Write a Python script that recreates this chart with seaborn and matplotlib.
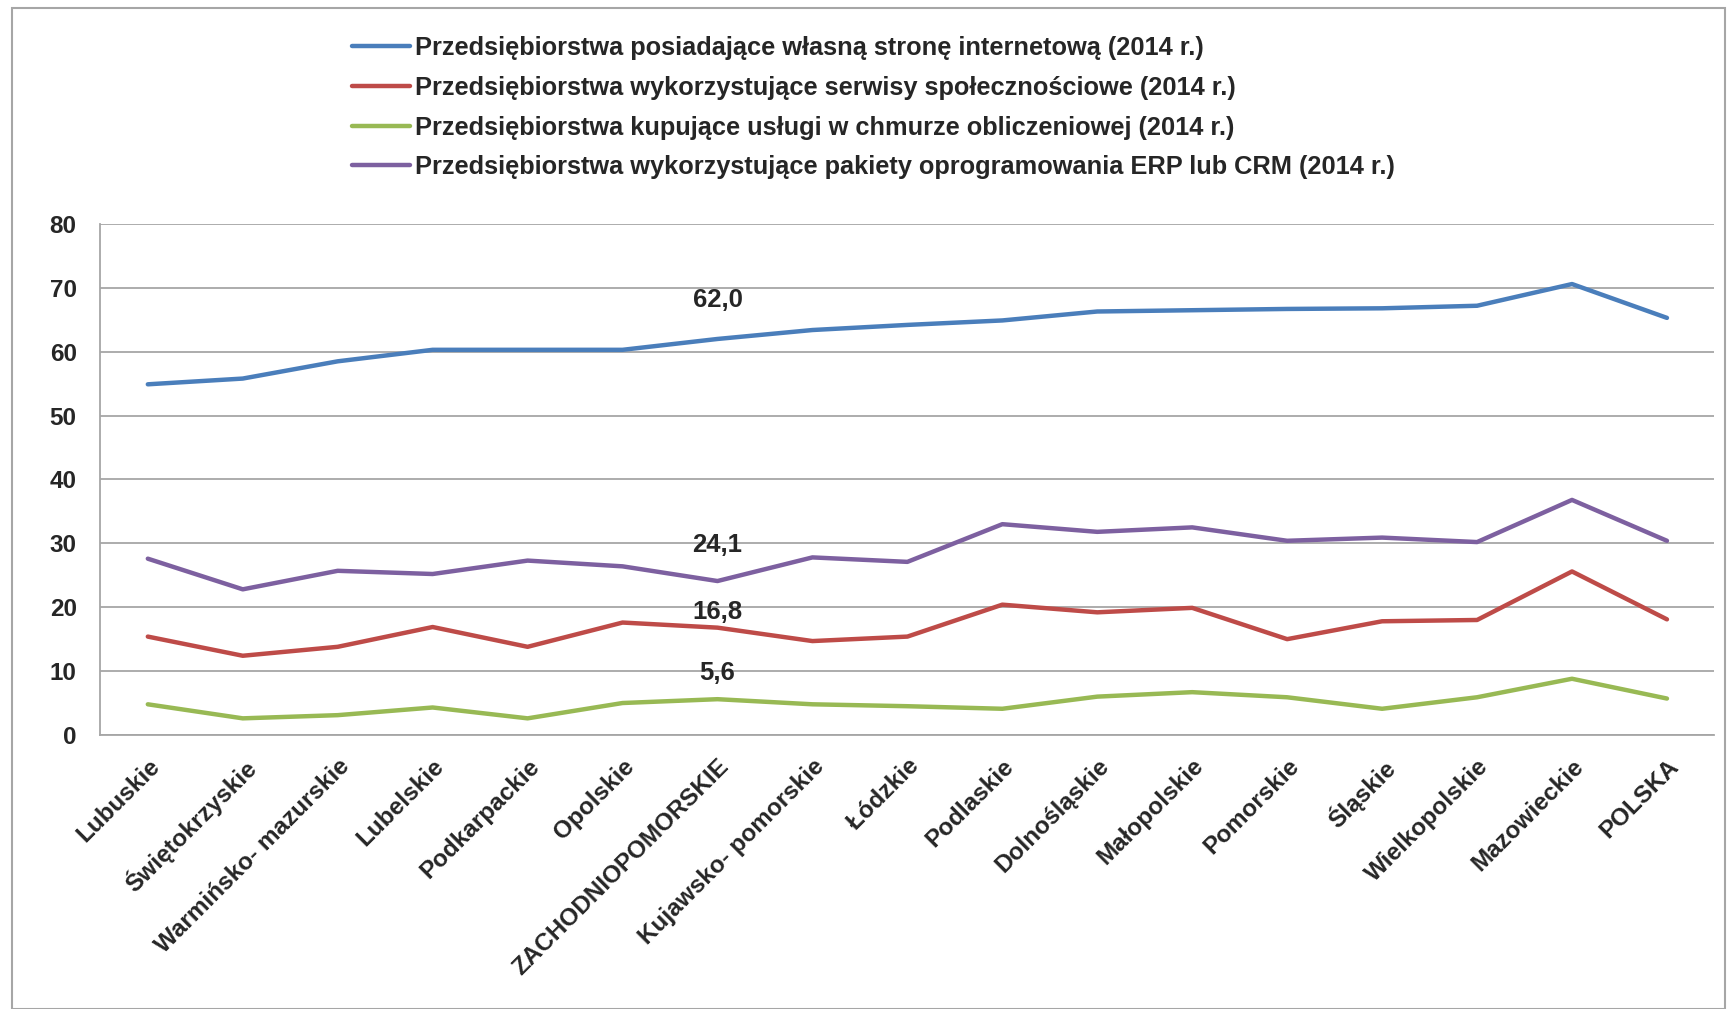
import seaborn as sns
import pandas as pd
import matplotlib.pyplot as plt
from matplotlib.patches import Rectangle
from matplotlib.ticker import FixedLocator

# dane
regions = ['Lubuskie', 'Świętokrzyskie', 'Warmińsko- mazurskie', 'Lubelskie', 'Podkarpackie',
           'Opolskie', 'ZACHODNIOPOMORSKIE', 'Kujawsko- pomorskie', 'Łódzkie', 'Podlaskie',
           'Dolnośląskie', 'Małopolskie', 'Pomorskie', 'Śląskie', 'Wielkopolskie',
           'Mazowieckie', 'POLSKA']

www = [54.9, 55.8, 58.5, 60.3, 60.3, 60.3, 62.0, 63.4, 64.2, 64.9, 66.3, 66.5, 66.7, 66.8, 67.2, 70.6, 65.3]
social = [15.4, 12.4, 13.8, 16.9, 13.8, 17.6, 16.8, 14.7, 15.4, 20.4, 19.2, 19.9, 15.0, 17.8, 18.0, 25.6, 18.1]
cloud = [4.8, 2.6, 3.1, 4.3, 2.6, 5.0, 5.6, 4.8, 4.5, 4.1, 6.0, 6.7, 5.9, 4.1, 5.9, 8.8, 5.7]
erp = [27.6, 22.8, 25.7, 25.2, 27.3, 26.4, 24.1, 27.8, 27.1, 33.0, 31.8, 32.5, 30.4, 30.9, 30.2, 36.8, 30.4]

series_names = ['Przedsiębiorstwa posiadające własną stronę internetową (2014 r.)',
                'Przedsiębiorstwa wykorzystujące serwisy społecznościowe (2014 r.)',
                'Przedsiębiorstwa kupujące usługi w chmurze obliczeniowej (2014 r.)',
                'Przedsiębiorstwa wykorzystujące pakiety oprogramowania ERP lub CRM (2014 r.)']
colors = ['#4a7ebb', '#be4b48', '#98b954', '#7d60a0']

# etykiety dla ZACHODNIOPOMORSKIE
label_idx = 6
label_vals = ['62,0', '16,8', '5,6', '24,1']
label_off = [28, 11, 19, 26]  # przesuniecie w pt

rows = []
for name, vals in zip(series_names, [www, social, cloud, erp]):
    for i, v in enumerate(vals):
        rows.append({'x': i, 'wartosc': v, 'seria': name})
df = pd.DataFrame(rows)

sns.set_style('white')
plt.rcParams['font.family'] = ['Liberation Sans', 'DejaVu Sans']
plt.rcParams['font.weight'] = 'bold'

fig = plt.figure(figsize=(17.3, 10.09), dpi=100)
ax = fig.add_axes([0.058, 0.2716, 0.933, 0.5064])

sns.lineplot(data=df, x='x', y='wartosc', hue='seria', palette=colors,
             linewidth=3.2, ax=ax, legend=False)

ax.set_xlim(-0.5, len(regions) - 0.5)
ax.set_ylim(0, 80)
ax.set_yticks(range(0, 81, 10))
ax.set_yticklabels([str(v) for v in range(0, 81, 10)], fontsize=17.5, fontweight='bold')
ax.yaxis.grid(True, color='#a6a6a6', linewidth=1.3)
ax.set_axisbelow(True)

ax.set_xticks(range(len(regions)))
ax.set_xticklabels(regions, rotation=45, ha='right', rotation_mode='anchor',
                   fontsize=17.5, fontweight='bold')
ax.xaxis.set_minor_locator(FixedLocator([i - 0.5 for i in range(len(regions) + 1)]))
ax.tick_params(axis='x', which='major', length=0, pad=14)
ax.tick_params(axis='x', which='minor', length=9, color='#a6a6a6', width=1.3, direction='out')
ax.tick_params(axis='y', length=7, color='#a6a6a6', width=1.3, direction='out', pad=10)
ax.set_xlabel('')
ax.set_ylabel('')

for s in ['top', 'right']:
    ax.spines[s].set_visible(False)
for s in ['left', 'bottom']:
    ax.spines[s].set_color('#a6a6a6')
    ax.spines[s].set_linewidth(1.3)

# etykiety danych
for vals, txt, off in zip([www, social, cloud, erp], label_vals, label_off):
    ax.annotate(txt, (label_idx, vals[label_idx]), xytext=(0, off), textcoords='offset points',
                ha='center', va='center', fontsize=18.5, fontweight='bold')

# legenda
handles = [plt.Line2D([], [], color=c, linewidth=3.2) for c in colors]
fig.legend(handles, series_names, loc='upper left', bbox_to_anchor=(0.19, 0.987),
           frameon=False, handlelength=2.3, handletextpad=0.2,
           labelspacing=0.62, prop={'weight': 'bold', 'size': 18.3})

# ramka wykresu
fig.patches.append(Rectangle((0.007, 0.0), 0.99, 0.992, transform=fig.transFigure,
                             fill=False, edgecolor='#a6a6a6', linewidth=1.5))

fig.savefig('out.png', dpi=100)
